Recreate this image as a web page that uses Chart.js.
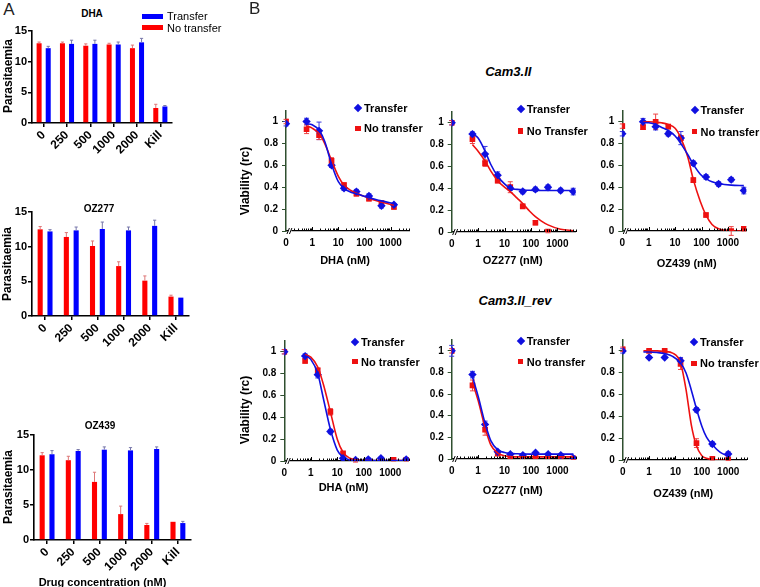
<!DOCTYPE html>
<html><head><meta charset="utf-8">
<script src="https://cdn.jsdelivr.net/npm/chart.js@4.4.1/dist/chart.umd.min.js"></script>
<style>
html,body{margin:0;padding:0;background:#fff;}
body{width:760px;height:587px;position:relative;overflow:hidden;font-family:'Liberation Sans',Arial,sans-serif;color:#000;}
canvas{position:absolute;}
.t{position:absolute;white-space:nowrap;line-height:1;transform:translate(-50%,-50%);}
.b{font-weight:bold;}
.lg{position:absolute;white-space:nowrap;line-height:1;transform:translateY(-50%);font-weight:bold;font-size:11px;}
</style></head><body>
<script>
// ---------------- DATA ----------------
const barCategories = ['0', '250', '500', '1000', '2000', 'Kill'];
// Panel A (parasitaemia)
const dhaNoTransfer      = [13.0, 13.0, 12.6, 12.8, 12.2, 2.45];
const dhaTransfer        = [12.2, 12.9, 12.9, 12.8, 13.15, 2.7];
const dhaNoTransferErr   = [0.2, 0.2, 0.3, 0.2, 0.5, 0.6];
const dhaTransferErr     = [0.3, 0.6, 0.6, 0.4, 0.65, 0.15];
const oz277NoTransfer    = [12.5, 11.4, 10.1, 7.2, 5.1, 2.8];
const oz277Transfer      = [12.2, 12.35, 12.55, 12.35, 13.0, 2.65];
const oz277NoTransferErr = [0.4, 0.63, 0.72, 0.62, 0.68, 0.2];
const oz277TransferErr   = [0.25, 0.48, 1.0, 0.48, 0.82, 0];
const oz439NoTransfer    = [12.1, 11.4, 8.3, 3.7, 2.14, 2.6];
const oz439Transfer      = [12.25, 12.72, 12.9, 12.8, 13.0, 2.42];
const oz439NoTransferErr = [0.38, 0.56, 1.38, 1.14, 0.23, 0];
const oz439TransferErr   = [0.52, 0.2, 0.4, 0.4, 0.3, 0.24];

// Panel B (viability), concentrations in nM
const concSeries = [0, 0.61, 1.83, 5.5, 16.5, 49, 148, 444, 1333, 4000];
const camDhaTransfer        = [0.98, 1.0, 0.915, 0.60, 0.39, 0.36, 0.32, 0.23, 0.24, null];
const camDhaTransferErr     = [0.02, 0.03, 0.08, 0.02, 0.02, 0.02, 0.02, 0.02, 0.01, null];
const camDhaNoTransfer      = [1.0, 0.93, 0.875, 0.64, 0.42, 0.34, 0.295, 0.255, 0.22, null];
const camDhaNoTransferErr   = [0.02, 0.04, 0.04, 0.03, 0.02, 0.02, 0.02, 0.02, 0.02, null];
const camOz277Transfer      = [1.0, 0.896, 0.713, 0.52, 0.40, 0.37, 0.39, 0.41, 0.38, 0.37];
const camOz277TransferErr   = [0.02, 0.02, 0.07, 0.03, 0.02, 0.02, 0.02, 0.02, 0.02, 0.03];
const camOz277NoTransfer    = [1.0, 0.85, 0.63, 0.47, 0.41, 0.235, 0.085, 0.003, null, null];
const camOz277NoTransferErr = [0.02, 0.04, 0.03, 0.02, 0.05, 0.02, 0.02, 0.01, null, null];
const camOz439Transfer      = [0.89, 1.0, 0.955, 0.89, 0.85, 0.62, 0.495, 0.43, 0.47, 0.37];
const camOz439TransferErr   = [0.02, 0.03, 0.03, 0.02, 0.06, 0.02, 0.02, 0.02, 0.02, 0.03];
const camOz439NoTransfer    = [0.96, 0.95, 1.0, 0.955, 0.85, 0.466, 0.146, null, 0.0, 0.02];
const camOz439NoTransferErr = [0.02, 0.02, 0.07, 0.02, 0.02, 0.02, 0.02, null, 0.04, 0.02];
const revDhaTransfer        = [1.0, 0.96, 0.79, 0.27, 0.025, 0.01, 0.015, 0.025, null, 0.015];
const revDhaTransferErr     = [0.02, 0.02, 0.03, 0.02, 0.01, 0.01, 0.01, 0.01, null, 0.01];
const revDhaNoTransfer      = [1.0, 0.915, 0.83, 0.45, 0.07, 0.0, null, null, 0.01, 0.01];
const revDhaNoTransferErr   = [0.02, 0.02, 0.02, 0.03, 0.01, 0.01, null, null, 0.01, 0.01];
const revOz277Transfer      = [1.0, 0.78, 0.32, 0.067, 0.045, 0.036, 0.058, 0.045, 0.036, 0.006];
const revOz277TransferErr   = [0.05, 0.03, 0.03, 0.01, 0.01, 0.01, 0.01, 0.01, 0.01, 0.01];
const revOz277NoTransfer    = [1.0, 0.68, 0.27, 0.05, 0.015, 0.015, 0.027, 0.02, 0.015, 0.006];
const revOz277NoTransferErr = [0.02, 0.05, 0.05, 0.01, 0.01, 0.01, 0.01, 0.01, 0.01, 0.01];
const concRevOz439 = [0, 1, 3.9, 15.6, 62.5, 250, 1000];
const revOz439Transfer      = [1.0, 0.94, 0.94, 0.91, 0.46, 0.146, 0.055];
const revOz439TransferErr   = [0.02, 0.01, 0.01, 0.03, 0.02, 0.02, 0.02];
const revOz439NoTransfer    = [1.015, 1.0, 1.0, 0.88, 0.155, 0.01, 0.005];
const revOz439NoTransferErr = [0.02, 0.01, 0.01, 0.05, 0.04, 0.01, 0.01];

// fitted curves
const fitGrid = [0.61, 1, 1.83, 3, 5.5, 10, 16.5, 30, 49, 90, 148, 250, 444, 1333, 4000];
const camDhaTransferFit     = [0.98, 0.97, 0.92, 0.82, 0.61, 0.45, 0.39, 0.355, 0.34, 0.32, 0.305, 0.29, 0.275, 0.25, null];
const camDhaNoTransferFit   = [0.96, 0.94, 0.89, 0.80, 0.645, 0.50, 0.42, 0.37, 0.345, 0.32, 0.30, 0.28, 0.265, 0.235, null];
const camOz277TransferFit   = [0.90, 0.86, 0.74, 0.62, 0.51, 0.44, 0.40, 0.39, 0.385, 0.382, 0.381, 0.38, 0.38, 0.38, 0.38];
const camOz277NoTransferFit = [0.80, 0.74, 0.65, 0.56, 0.47, 0.41, 0.37, 0.31, 0.26, 0.19, 0.14, 0.10, 0.065, 0.025, 0.012];
const camOz439TransferFit   = [0.995, 0.99, 0.975, 0.95, 0.92, 0.87, 0.80, 0.70, 0.61, 0.52, 0.48, 0.45, 0.435, 0.42, 0.415];
const camOz439NoTransferFit = [1.0, 1.0, 0.995, 0.99, 0.975, 0.94, 0.85, 0.68, 0.47, 0.27, 0.145, 0.06, 0.02, 0.002, 0.0];
const revDhaTransferFit     = [0.965, 0.93, 0.80, 0.57, 0.29, 0.10, 0.035, 0.01, 0.005, 0.003, 0.003, 0.003, 0.003, 0.003, 0.003];
const revDhaNoTransferFit   = [0.975, 0.95, 0.86, 0.70, 0.45, 0.20, 0.08, 0.025, 0.01, 0.006, 0.005, 0.005, 0.005, 0.005, 0.005];
const revOz277TransferFit   = [0.76, 0.58, 0.33, 0.17, 0.085, 0.06, 0.052, 0.048, 0.046, 0.045, 0.045, 0.045, 0.045, 0.045, 0.045];
const revOz277NoTransferFit = [0.71, 0.54, 0.29, 0.13, 0.055, 0.03, 0.022, 0.02, 0.02, 0.02, 0.02, 0.02, 0.02, 0.02, 0.02];
const fitGridRevOz439 = [0.61, 1, 2, 3.9, 7.8, 15.6, 25, 40, 62.5, 100, 150, 250, 500, 1000];
const revOz439TransferFit   = [0.99, 0.99, 0.985, 0.975, 0.95, 0.89, 0.80, 0.64, 0.47, 0.31, 0.21, 0.14, 0.07, 0.035];
const revOz439NoTransferFit = [1.0, 1.0, 1.0, 0.995, 0.98, 0.89, 0.65, 0.32, 0.13, 0.04, 0.015, 0.005, 0.001, 0.0];

const viabilityTicks = [0, 0.2, 0.4, 0.6, 0.8, 1];
const viabilityTickLabels = ['0', '0.2', '0.4', '0.6', '0.8', '1'];
const doseTickLabels = ['0', '1', '10', '100', '1000'];

// ---------------- STYLE / HELPERS ----------------
const FONT = "'Liberation Sans', Arial, sans-serif";
Chart.defaults.font.family = FONT;
Chart.defaults.color = '#000';
Chart.defaults.animation = false;
const BAR_RED = '#ff0000', BAR_BLUE = '#0000ff';
const PT_RED = '#ee1111', PT_BLUE = '#1010e0';
const AXIS_GREEN = '#2f4f2f';

function makeCanvas(box){
  const c = document.createElement('canvas');
  c.width = box.w; c.height = box.h;
  c.style.left = box.l + 'px'; c.style.top = box.t + 'px';
  c.style.width = box.w + 'px'; c.style.height = box.h + 'px';
  document.body.appendChild(c);
  return c;
}
function text(str, x, y, size, cls, extra){
  const d = document.createElement('div');
  d.className = 't ' + (cls || '');
  d.textContent = str;
  d.style.left = x + 'px'; d.style.top = y + 'px'; d.style.fontSize = size + 'px';
  if (extra) d.style.cssText += extra;
  document.body.appendChild(d);
  return d;
}
function vtext(str, x, y, size){
  return text(str, x, y, size, 'b', 'transform:translate(-50%,-50%) rotate(-90deg);');
}
function div(css){ const d=document.createElement('div'); d.style.cssText = 'position:absolute;' + css; document.body.appendChild(d); return d; }

const errorBars = {
  id: 'errorBars',
  beforeDatasetsDraw(chart){ draw(chart, 'both'); },
  afterDatasetsDraw(chart){ draw(chart, 'up'); }
};
function draw(chart, mode){
  const ctx = chart.ctx, ys = chart.scales.y;
  chart.data.datasets.forEach((ds, i) => {
    if (!ds.errors || ds.errMode !== mode) return;
    const meta = chart.getDatasetMeta(i);
    ctx.save();
    ctx.strokeStyle = ds.errColor; ctx.lineWidth = 1;
    meta.data.forEach((el, j) => {
      const e = ds.errors[j];
      if (!e) return;
      const raw = ds.data[j];
      const v = (typeof raw === 'object') ? raw.y : raw;
      const x = el.x, yTop = ys.getPixelForValue(v + e);
      const yBot = mode === 'up' ? el.y : ys.getPixelForValue(v - e);
      const cap = ds.capHalf;
      ctx.beginPath();
      ctx.moveTo(x, yBot); ctx.lineTo(x, yTop);
      ctx.moveTo(x - cap, yTop); ctx.lineTo(x + cap, yTop);
      if (mode === 'both') { ctx.moveTo(x - cap, yBot); ctx.lineTo(x + cap, yBot); }
      ctx.stroke();
    });
    ctx.restore();
  });
}

function geometry(box, area){
  return {
    padding: {left: 0, top: area.t - box.t, right: (box.l + box.w) - area.r, bottom: 0},
    yW: area.l - box.l,
    xH: (box.t + box.h) - area.b
  };
}

// ---------------- PANEL A ----------------
function barChart(box, area, red, redErr, blue, blueErr, catPct, barPct){
  const g = geometry(box, area);
  new Chart(makeCanvas(box), {
    type: 'bar',
    data: {
      labels: barCategories,
      datasets: [
        {label: 'No transfer', data: red, backgroundColor: BAR_RED, errors: redErr, errMode: 'up', errColor: '#d77', capHalf: 1.6},
        {label: 'Transfer', data: blue, backgroundColor: BAR_BLUE, errors: blueErr, errMode: 'up', errColor: '#77a', capHalf: 1.6}
      ]
    },
    options: {
      responsive: false, animation: false,
      layout: {padding: g.padding},
      datasets: {bar: {categoryPercentage: catPct, barPercentage: barPct}},
      plugins: {legend: {display: false}, tooltip: {enabled: false}},
      scales: {
        x: {
          grid: {display: true, drawOnChartArea: false, offset: false, tickLength: 4, color: '#000', lineWidth: 1.5},
          border: {color: '#000', width: 1.6},
          ticks: {autoSkip: false, maxRotation: 45, minRotation: 45, padding: 1, font: {size: 12, weight: 'bold'}, color: '#000'},
          afterFit(s){ s.height = g.xH; }
        },
        y: {
          min: 0, max: 15,
          grid: {drawOnChartArea: false, tickLength: 4, color: '#000', lineWidth: 1.5},
          border: {color: '#000', width: 1.6},
          ticks: {stepSize: 5, padding: 1, font: {size: 11, weight: 'bold'}, color: '#000'},
          afterFit(s){ s.width = g.yW; }
        }
      }
    },
    plugins: [errorBars]
  });
}

barChart({l:0, t:20, w:180, h:180}, {l:32, t:31, r:172, b:123},
  dhaNoTransfer, dhaNoTransferErr, dhaTransfer, dhaTransferErr, 0.78, 0.55);
barChart({l:0, t:200, w:195, h:187}, {l:32, t:212, r:189, b:316},
  oz277NoTransfer, oz277NoTransferErr, oz277Transfer, oz277TransferErr, 0.75, 0.52);
barChart({l:0, t:420, w:198, h:160}, {l:34, t:435, r:191, b:540},
  oz439NoTransfer, oz439NoTransferErr, oz439Transfer, oz439TransferErr, 0.75, 0.52);

text('A', 9, 9, 17, '', 'color:#222;');
text('DHA', 92, 14, 10, 'b');
text('OZ277', 99, 208.5, 10, 'b');
text('OZ439', 100, 425.5, 10, 'b');
vtext('Parasitaemia', 8.3, 76, 12);
vtext('Parasitaemia', 7, 264, 12);
vtext('Parasitaemia', 7.7, 487, 12);
text('Drug concentration (nM)', 102.5, 582, 11, 'b');
// legend of panel A
div('left:142px;top:14.3px;width:21px;height:5px;background:' + BAR_BLUE);
div('left:142px;top:25px;width:21px;height:5px;background:' + BAR_RED);
{ const a = document.createElement('div'); a.className='lg'; a.style.cssText += 'left:167px;top:16.3px;font-weight:normal;'; a.textContent='Transfer'; document.body.appendChild(a);
  const b = document.createElement('div'); b.className='lg'; b.style.cssText += 'left:167px;top:27.8px;font-weight:normal;'; b.textContent='No transfer'; document.body.appendChild(b); }

// ---------------- PANEL B ----------------
function axisPos(c){ return c === 0 ? -1 : Math.log10(c); }
function toPoints(conc, vals, errs){
  const d = [], e = [];
  conc.forEach((c, i) => {
    if (vals[i] == null) return;
    d.push({x: axisPos(c), y: vals[i]});
    e.push(errs ? (errs[i] || 0) : 0);
  });
  return {d, e};
}
const logAxisDecor = {
  id: 'logAxisDecor',
  afterDraw(chart){
    const xs = chart.scales.x, ctx = chart.ctx, yb = chart.chartArea.bottom;
    ctx.save();
    ctx.strokeStyle = '#000'; ctx.lineWidth = 1;
    for (let d = -1; d <= 3; d++) {
      for (let k = 1; k <= 9; k++) {
        const v = d + Math.log10(k);
        if (v < -0.72 || v > xs.max) continue;
        const px = Math.round(xs.getPixelForValue(v)) + 0.5;
        const len = k === 1 ? 4 : 2.5;
        ctx.beginPath(); ctx.moveTo(px, yb); ctx.lineTo(px, yb - len); ctx.stroke();
      }
    }
    // axis break mark
    const bx = xs.getPixelForValue(-0.85);
    ctx.fillStyle = '#fff';
    ctx.fillRect(bx - 1.5, yb - 2, 3, 4);
    ctx.beginPath();
    ctx.moveTo(bx - 3, yb + 3); ctx.lineTo(bx - 0.5, yb - 3);
    ctx.moveTo(bx - 0.5, yb + 3); ctx.lineTo(bx + 2, yb - 3);
    ctx.stroke();
    ctx.restore();
  }
};

function doseChart(box, area, conc, tVals, tErr, nVals, nErr, grid, tFit, nFit){
  const g = geometry(box, area);
  const T = toPoints(conc, tVals, tErr), N = toPoints(conc, nVals, nErr);
  const TF = toPoints(grid, tFit), NF = toPoints(grid, nFit);
  new Chart(makeCanvas(box), {
    data: {
      datasets: [
        {type: 'line', data: TF.d, borderColor: PT_BLUE, borderWidth: 1.6, pointRadius: 0, cubicInterpolationMode: 'monotone', fill: false},
        {type: 'line', data: NF.d, borderColor: PT_RED, borderWidth: 1.6, pointRadius: 0, cubicInterpolationMode: 'monotone', fill: false},
        {type: 'scatter', label: 'Transfer', data: T.d, pointStyle: 'rectRot', pointRadius: 4.2, backgroundColor: PT_BLUE, borderWidth: 0,
          errors: T.e, errMode: 'both', errColor: '#3a3ae0', capHalf: 2.5},
        {type: 'scatter', label: 'No transfer', data: N.d, pointStyle: 'rect', pointRadius: 4, backgroundColor: PT_RED, borderWidth: 0,
          errors: N.e, errMode: 'both', errColor: '#ee4444', capHalf: 2.5}
      ]
    },
    options: {
      responsive: false, animation: false,
      layout: {padding: g.padding},
      plugins: {legend: {display: false}, tooltip: {enabled: false}},
      scales: {
        x: {
          type: 'linear', min: -1, max: 3.7,
          afterBuildTicks(s){ s.ticks = [-1, 0, 1, 2, 3].map(v => ({value: v})); },
          grid: {display: false, drawTicks: false},
          border: {display: true, color: '#000', width: 1.2},
          ticks: {padding: 6, font: {size: 10, weight: 'bold'}, color: '#000', autoSkip: false, maxRotation: 0,
            callback: (v) => doseTickLabels[Math.round(v) + 1]},
          afterFit(s){ s.height = g.xH; }
        },
        y: {
          min: 0, max: 1.1,
          afterBuildTicks(s){ s.ticks = viabilityTicks.map(v => ({value: v})); },
          grid: {drawOnChartArea: false, tickLength: 4, color: AXIS_GREEN, lineWidth: 1},
          border: {color: AXIS_GREEN, width: 1.5},
          ticks: {padding: 4, font: {size: 10, weight: 'bold'}, color: '#000',
            callback: (v) => viabilityTickLabels[Math.round(v * 5)]},
          afterFit(s){ s.width = g.yW; }
        }
      }
    },
    plugins: [errorBars, logAxisDecor]
  });
}

doseChart({l:250, t:100, w:170, h:160}, {l:286, t:110.6, r:409, b:231},
  concSeries, camDhaTransfer, camDhaTransferErr, camDhaNoTransfer, camDhaNoTransferErr, fitGrid, camDhaTransferFit, camDhaNoTransferFit);
doseChart({l:420, t:100, w:165, h:160}, {l:451.7, t:111.8, r:575.8, b:232},
  concSeries, camOz277Transfer, camOz277TransferErr, camOz277NoTransfer, camOz277NoTransferErr, fitGrid, camOz277TransferFit, camOz277NoTransferFit);
doseChart({l:590, t:100, w:170, h:160}, {l:622.3, t:110.8, r:746.4, b:231},
  concSeries, camOz439Transfer, camOz439TransferErr, camOz439NoTransfer, camOz439NoTransferErr, fitGrid, camOz439TransferFit, camOz439NoTransferFit);
doseChart({l:250, t:330, w:170, h:160}, {l:284.3, t:340.8, r:408.8, b:461},
  concSeries, revDhaTransfer, revDhaTransferErr, revDhaNoTransfer, revDhaNoTransferErr, fitGrid, revDhaTransferFit, revDhaNoTransferFit);
doseChart({l:420, t:330, w:165, h:160}, {l:451.7, t:338.3, r:576, b:459},
  concSeries, revOz277Transfer, revOz277TransferErr, revOz277NoTransfer, revOz277NoTransferErr, fitGrid, revOz277TransferFit, revOz277NoTransferFit);
doseChart({l:590, t:330, w:170, h:160}, {l:622.7, t:339.8, r:746.7, b:460},
  concRevOz439, revOz439Transfer, revOz439TransferErr, revOz439NoTransfer, revOz439NoTransferErr, fitGridRevOz439, revOz439TransferFit, revOz439NoTransferFit);

text('B', 254.7, 7.5, 17, '', 'color:#222;');
text('Cam3.II', 508.3, 71, 13, 'b', 'font-style:italic;');
text('Cam3.II_rev', 515, 300, 13, 'b', 'font-style:italic;');
vtext('Viability (rc)', 245, 181, 12);
vtext('Viability (rc)', 245, 410, 12);
text('DHA (nM)', 345, 260, 11, 'b');
text('OZ277 (nM)', 512.7, 260, 11, 'b');
text('OZ439 (nM)', 686.7, 262.5, 11, 'b');
text('DHA (nM)', 343.5, 486.5, 11, 'b');
text('OZ277 (nM)', 512.8, 490, 11, 'b');
text('OZ439 (nM)', 683.3, 492.5, 11, 'b');

function legendB(x, yT, yN, noLabel){
  div(`left:${x-3}px;top:${yT-3}px;width:6px;height:6px;background:${PT_BLUE};transform:rotate(45deg);`);
  div(`left:${x-2.8}px;top:${yN-2.8}px;width:5.6px;height:5.6px;background:${PT_RED};`);
  const a = document.createElement('div'); a.className = 'lg'; a.style.left = (x+6) + 'px'; a.style.top = yT + 'px'; a.textContent = 'Transfer'; document.body.appendChild(a);
  const b = document.createElement('div'); b.className = 'lg'; b.style.left = (x+6) + 'px'; b.style.top = yN + 'px'; b.textContent = noLabel; document.body.appendChild(b);
}
legendB(358, 108.3, 128.3, 'No transfer');
legendB(520.7, 109.3, 131, 'No Transfer');
legendB(694.5, 110, 131.7, 'No transfer');
legendB(355, 341.7, 361.5, 'No transfer');
legendB(520.7, 340.7, 361.5, 'No transfer');
legendB(694, 341.7, 363.3, 'No transfer');
</script>
</body></html>
